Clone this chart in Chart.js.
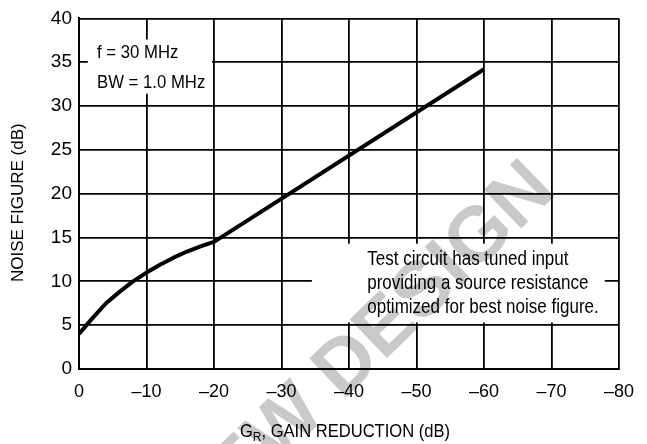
<!DOCTYPE html>
<html>
<head>
<meta charset="utf-8">
<script src="https://cdn.jsdelivr.net/npm/chart.js@4"></script>
<style>
  html, body { margin: 0; padding: 0; background: #fff; }
  #wrap { width: 647px; height: 444px; }
</style>
</head>
<body>
<div id="wrap"><canvas id="nfChart" width="647" height="444"></canvas></div>
<script>
// noise figure vs gain reduction
const gainReduction = [0, -2, -4, -6, -8, -10, -12, -14, -16, -18, -20, -60];
const noiseFigure = [4.0, 5.8, 7.5, 8.8, 10.0, 11.0, 11.9, 12.7, 13.4, 14.0, 14.5, 34.2];
const xTickValues = [0, -10, -20, -30, -40, -50, -60, -70, -80];
const yTickValues = [0, 5, 10, 15, 20, 25, 30, 35, 40];
const conditionLines = ["f = 30 MHz", "BW = 1.0 MHz"];
const noteLines = [
  "Test circuit has tuned input",
  "providing a source resistance",
  "optimized for best noise figure."
];
const watermark = "NOT FOR NEW DESIGN";

const family = "'Liberation Sans', Arial, sans-serif";

const points = gainReduction.map((g, i) => ({ x: g, y: noiseFigure[i] }));

// condensed-looking text: squeeze horizontally around the anchor point
function narrowText(ctx, text, x, y, squeeze) {
  ctx.save();
  ctx.translate(x, y);
  ctx.scale(squeeze, 1);
  ctx.fillText(text, 0, 0);
  ctx.restore();
}

const overlay = {
  id: "overlay",
  beforeDatasetsDraw(chart) {
    const { ctx } = chart;
    const x = chart.scales.x, y = chart.scales.y;
    const px = v => x.getPixelForValue(v);
    const py = v => y.getPixelForValue(v);

    ctx.save();
    // white backing behind the two text blocks
    ctx.fillStyle = "#fff";
    ctx.fillRect(px(-1.3), py(37.6), px(-19.7) - px(-1.3), py(31.4) - py(37.6));
    ctx.fillRect(px(-34.5), py(14.3), px(-77.9) - px(-34.5), py(5.3) - py(14.3));

    // "not for new design" stamp
    ctx.save();
    ctx.globalCompositeOperation = "multiply";
    ctx.fillStyle = "#c9c9c9";
    ctx.font = "bold 78px " + family;
    const tail = ctx.measureText("DESIGN").width;
    ctx.translate(px(-52.8), py(10.0));
    ctx.rotate(-44 * Math.PI / 180);
    ctx.textAlign = "right";
    ctx.textBaseline = "middle";
    ctx.fillText(watermark, tail / 2, 0);
    ctx.restore();

    ctx.fillStyle = "#000";
    ctx.textAlign = "left";
    ctx.textBaseline = "alphabetic";
    ctx.font = "19px " + family;
    narrowText(ctx, conditionLines[0], px(-2.67), py(35.5), 0.88);
    narrowText(ctx, conditionLines[1], px(-2.67), py(32.1), 0.88);

    ctx.font = "20px " + family;
    const noteY = [11.83, 9.13, 6.42];
    noteLines.forEach((t, i) => narrowText(ctx, t, px(-42.7), py(noteY[i]), 0.85));
    ctx.restore();
  },
  afterDraw(chart) {
    const { ctx, chartArea } = chart;
    ctx.save();
    ctx.fillStyle = "#000";
    ctx.textBaseline = "alphabetic";

    // y axis title
    ctx.save();
    ctx.translate(23, (chartArea.top + chartArea.bottom) / 2 + 9);
    ctx.rotate(-Math.PI / 2);
    ctx.textAlign = "center";
    ctx.font = "17px " + family;
    ctx.fillText("NOISE FIGURE (dB)", 0, 0);
    ctx.restore();

    // x axis title with subscript R
    ctx.font = "18px " + family;
    const rest = ", GAIN REDUCTION (dB)";
    const sq = 0.92;
    const wG = ctx.measureText("G").width * sq;
    const wRest = ctx.measureText(rest).width * sq;
    ctx.font = "13px " + family;
    const wR = ctx.measureText("R").width * sq;
    const total = wG + wR + wRest;
    let tx = (chartArea.left + chartArea.right) / 2 - 4 - total / 2;
    const base = chart.height - 7;
    ctx.textAlign = "left";
    ctx.font = "18px " + family;
    narrowText(ctx, "G", tx, base, sq);
    tx += wG;
    ctx.font = "13px " + family;
    narrowText(ctx, "R", tx, base + 4, sq);
    tx += wR;
    ctx.font = "18px " + family;
    narrowText(ctx, rest, tx, base, sq);
    ctx.restore();
  }
};

const ctx = document.getElementById("nfChart").getContext("2d");
const chart = new Chart(ctx, {
  type: "scatter",
  data: {
    datasets: [
      {
        label: "Noise figure",
        data: points,
        showLine: true,
        borderColor: "#000",
        borderWidth: 4,
        pointRadius: 0,
        tension: 0,
        borderCapStyle: "butt",
        borderJoinStyle: "round"
      }
    ]
  },
  options: {
    responsive: false,
    animation: false,
    layout: { padding: { left: 0, right: 28, top: 14, bottom: 0 } },
    plugins: {
      legend: { display: false },
      tooltip: { enabled: false }
    },
    scales: {
      x: {
        type: "linear",
        min: -80,
        max: 0,
        reverse: true,
        afterBuildTicks: s => { s.ticks = xTickValues.map(v => ({ value: v })); },
        afterFit: s => { s.height = 75; },
        grid: { color: "#000", lineWidth: 1.8, drawTicks: false },
        border: { color: "#000", width: 2 },
        ticks: {
          color: "#000",
          padding: 12,
          maxRotation: 0,
          font: { family: family, size: 18 },
          callback: v => (v === 0 ? "0" : "\u2013" + Math.abs(v))
        }
      },
      y: {
        type: "linear",
        min: 0,
        max: 40,
        afterBuildTicks: s => { s.ticks = yTickValues.map(v => ({ value: v })); },
        afterFit: s => { s.width = 79; },
        grid: { color: "#000", lineWidth: 1.8, drawTicks: false },
        border: { color: "#000", width: 2 },
        ticks: {
          color: "#000",
          padding: 7,
          font: { family: family, size: 19 }
        }
      }
    }
  },
  plugins: [overlay]
});
</script>
</body>
</html>
